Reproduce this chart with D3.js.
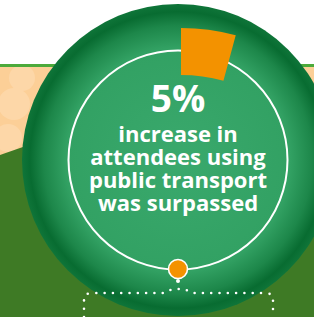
<!DOCTYPE html>
<html>
<head>
<meta charset="utf-8">
<script src="https://cdn.jsdelivr.net/npm/d3@7.9.0/dist/d3.min.js"></script>
<style>
  html, body { margin: 0; padding: 0; background: #fff; }
  svg { display: block; }
  text { font-family: "Open Sans", "Noto Sans", sans-serif; font-weight: 700; fill: #fff; }
</style>
</head>
<body>
<svg id="chart" width="314" height="317"></svg>
<script>
// values
const headline = ["5%"];
const captionLines = ["increase in", "attendees using", "public transport", "was surpassed"];
const increasePct = [5];

const width = 314, height = 317;
const svg = d3.select("#chart");
const defs = svg.append("defs");

// sphere shading
const grad = defs.append("radialGradient").attr("id", "sphere")
  .attr("cx", "50%").attr("cy", "50%").attr("r", "50%");
[[0, "#3aa96d"], [0.72, "#32a163"], [0.86, "#1d874a"], [0.95, "#086c31"], [1, "#0f7539"]]
  .forEach(([o, c]) => grad.append("stop").attr("offset", o).attr("stop-color", c));

// backdrop: sky, hedge line, sand with soft spots, ground
svg.append("rect").attr("width", width).attr("height", height).attr("fill", "#fff");
svg.append("rect").attr("y", 66).attr("width", width).attr("height", height - 66).attr("fill", "#fccf97");
const spots = [[22, 78, 13], [14, 104, 16], [8, 138, 14], [60, 80, 10]];
svg.selectAll(".spot").data(spots).join("circle").attr("class", "spot")
  .attr("cx", d => d[0]).attr("cy", d => d[1]).attr("r", d => d[2]).attr("fill", "#fdd7a8");
svg.append("rect").attr("y", 64).attr("width", width).attr("height", 3).attr("fill", "#4caa3b");
svg.append("path").attr("d", "M0,155 L40,141 L314,100 L314,317 L0,317 Z").attr("fill", "#3e7a25");

const cx = 178, cy = 160;
svg.append("circle").attr("cx", cx).attr("cy", cy).attr("r", 156).attr("fill", "url(#sphere)");

// white ring
svg.append("circle").attr("cx", cx).attr("cy", cy).attr("r", 109.5)
  .attr("fill", "none").attr("stroke", "#fff").attr("stroke-width", 2);

// orange gauge wedge
const angle = d3.scaleLinear().domain([0, 5]).range([0, 0.265]);
const arc = d3.arc().innerRadius(162).outerRadius(209).startAngle(0).endAngle(d => angle(d));
svg.append("g").attr("transform", "translate(181,237)")
  .selectAll("path").data(increasePct).join("path")
  .attr("d", arc).attr("fill", "#f39200");

// text
svg.selectAll(".head").data(headline).join("text").attr("class", "head")
  .attr("x", cx).attr("y", 112).attr("text-anchor", "middle")
  .attr("font-size", 37).text(d => d);

const lineY = d3.scaleLinear().domain([0, captionLines.length - 1]).range([142, 211]);
svg.selectAll(".cap").data(captionLines).join("text").attr("class", "cap")
  .attr("x", cx).attr("y", (d, i) => lineY(i)).attr("text-anchor", "middle")
  .attr("font-size", 22).text(d => d);

// dotted bracket below
svg.append("path")
  .attr("d", "M84,317 L84,300 Q84,293 92,293 L163,293 Q170,289 178,289 Q186,289 193,293 L265,293 Q273,293 273,300 L273,317")
  .attr("fill", "none").attr("stroke", "#fff").attr("stroke-width", 2.6)
  .attr("stroke-linecap", "round").attr("stroke-dasharray", "0 8.3");

svg.append("circle").attr("cx", cx).attr("cy", 281).attr("r", 2).attr("fill", "#fff");
svg.append("circle").attr("cx", cx).attr("cy", 269).attr("r", 9.5)
  .attr("fill", "#f39200").attr("stroke", "#fff").attr("stroke-width", 1.6);
</script>
</body>
</html>
